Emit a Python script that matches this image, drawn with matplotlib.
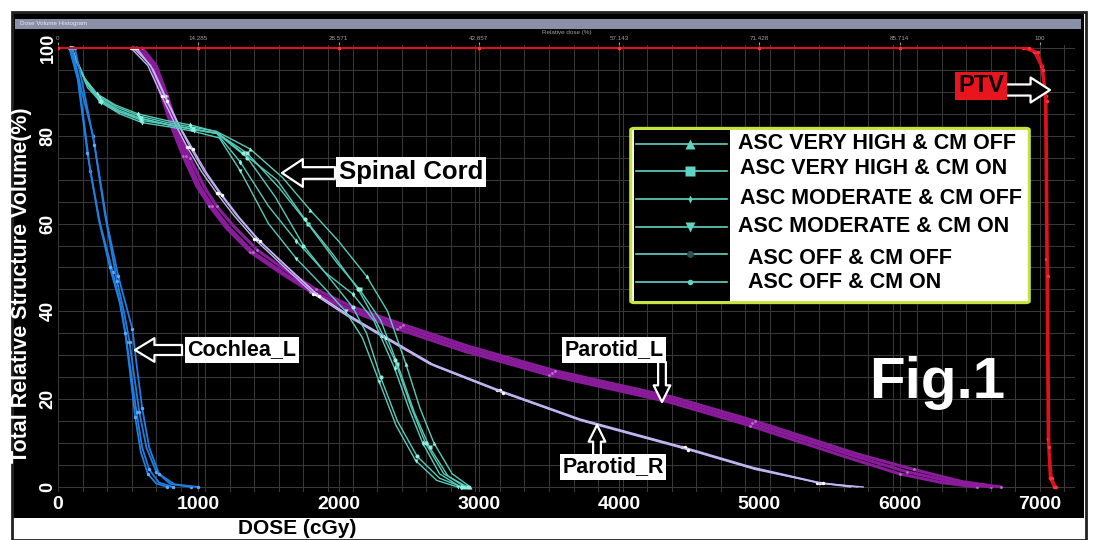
import numpy as np
import matplotlib.pyplot as plt
from matplotlib.patches import Rectangle, FancyBboxPatch
from matplotlib.lines import Line2D

plt.rcParams['font.family'] = ['Liberation Sans', 'DejaVu Sans']

# ---- data (dose in cGy, volume in %) ----
ptv_dose = [
    [0, 1000, 2000, 3000, 4000, 5000, 6000, 6900, 6970, 7015, 7040, 7050, 7060, 7075, 7105],
    [0, 1000, 2000, 3000, 4000, 5000, 6000, 6880, 6960, 7005, 7035, 7045, 7055, 7070, 7100],
    [0, 1000, 2000, 3000, 4000, 5000, 6000, 6920, 6985, 7025, 7048, 7058, 7068, 7085, 7115],
]
ptv_vol = [
    [100, 100, 100, 100, 100, 100, 100, 100, 99, 96, 89, 50, 10, 2, 0],
    [100, 100, 100, 100, 100, 100, 100, 100, 99, 96, 90, 52, 11, 2, 0],
    [100, 100, 100, 100, 100, 100, 100, 100, 99, 95, 88, 48, 9, 2, 0],
]

cochlea_dose = [
    [90, 150, 230, 300, 390, 450, 490, 520, 560, 600, 650, 720, 820],
    [100, 170, 250, 335, 420, 470, 510, 540, 580, 630, 700, 800, 950],
    [120, 180, 260, 350, 430, 480, 530, 560, 600, 650, 720, 830, 1000],
    [80, 140, 210, 290, 370, 440, 480, 510, 550, 590, 640, 700, 780],
]
cochlea_vol = [
    [100, 92, 72, 60, 49, 41, 33, 26, 17, 9, 4, 1, 0],
    [100, 90, 80, 62, 47, 40, 33, 26, 17, 9, 3.5, 0.7, 0],
    [100, 91, 78, 60, 48, 42, 36, 28, 18, 9, 3, 0.6, 0],
    [100, 93, 76, 61, 50, 42, 35, 27, 16, 8, 3, 0.8, 0],
]

# one spinal cord curve per plan (same order as the legend)
cord_dose = [
    [90, 190, 290, 420, 580, 780, 950, 1130, 1370, 1600, 1800, 2000, 2200, 2350, 2480, 2580, 2680, 2810, 2940],
    [95, 200, 300, 430, 590, 790, 960, 1140, 1350, 1580, 1780, 1990, 2150, 2300, 2420, 2540, 2650, 2780, 2900],
    [85, 180, 280, 410, 570, 770, 940, 1120, 1300, 1500, 1700, 1900, 2100, 2250, 2400, 2500, 2600, 2720, 2870],
    [100, 210, 310, 440, 600, 800, 970, 1150, 1300, 1500, 1700, 1880, 2050, 2170, 2290, 2410, 2550, 2700, 2850],
    [90, 195, 295, 425, 585, 785, 955, 1135, 1350, 1550, 1750, 1950, 2100, 2200, 2300, 2420, 2560, 2720, 2880],
    [95, 205, 305, 435, 595, 795, 965, 1145, 1320, 1560, 1760, 1960, 2140, 2280, 2400, 2520, 2620, 2750, 2920],
]
cord_vol = [
    [100, 93, 89, 86.5, 84.5, 83, 82, 81, 77, 70.5, 63, 56, 48, 40, 28, 18, 10, 3, 0],
    [100, 92, 88, 85.5, 84, 82.5, 81.5, 80.5, 76, 68, 60, 51, 45, 38, 28, 17, 9, 2.5, 0],
    [100, 93.5, 89.5, 87, 85, 83.5, 82.5, 81, 74, 64, 56, 49, 44, 38, 27, 18, 10, 3, 0],
    [100, 91, 87.5, 85, 83, 82, 81, 79.5, 72, 60, 52, 46, 40, 34, 24, 14, 6, 1.5, 0],
    [100, 92.5, 88.5, 86, 84, 82.5, 81.5, 80.5, 75, 66, 55, 47, 41, 35, 25, 15, 7, 2, 0],
    [100, 92, 88, 85.5, 83.5, 82.5, 81.5, 80.5, 76, 70, 61, 53, 45, 37, 29, 18, 10, 3, 0],
]

parotid_l_dose = [
    [540, 650, 730, 810, 890, 990, 1080, 1200, 1370, 1600, 1800, 2060, 2420, 2890, 3500, 4340, 4930, 5650, 6000, 6300, 6550],
    [560, 670, 750, 830, 910, 1010, 1100, 1220, 1390, 1620, 1820, 2080, 2440, 2910, 3520, 4360, 4950, 5680, 6050, 6400, 6650],
    [600, 700, 780, 860, 940, 1040, 1130, 1250, 1420, 1640, 1840, 2100, 2460, 2930, 3540, 4380, 4970, 5700, 6100, 6450, 6720],
]
parotid_l_vol = [
    [100, 97, 90, 82, 75.5, 68.5, 64, 59, 53.5, 48.5, 44.5, 40.5, 36, 31, 25.5, 19.5, 14, 6.5, 3, 1, 0],
    [100, 97, 90, 82, 75.5, 68.5, 64, 59, 53.5, 48.5, 44.5, 40.5, 36.5, 31.5, 26, 20, 14.5, 7, 3.5, 1, 0],
    [100, 96, 89, 81, 75, 68.5, 64, 59.5, 54, 49, 45, 41, 37, 32, 26.5, 20.5, 15, 7.5, 4, 1.2, 0],
]

parotid_r_dose = [
    [520, 640, 740, 830, 920, 1020, 1130, 1250, 1400, 1600, 1820, 2060, 2300, 2650, 3130, 3700, 4450, 4930, 5410, 5650],
    [540, 660, 760, 850, 940, 1040, 1150, 1270, 1420, 1620, 1840, 2080, 2320, 2670, 3150, 3720, 4470, 4950, 5430, 5700],
    [560, 680, 780, 870, 960, 1060, 1170, 1290, 1440, 1640, 1860, 2100, 2340, 2690, 3170, 3740, 4490, 4970, 5450, 5740],
]
parotid_r_vol = [
    [100, 96, 89, 83, 77.5, 72, 67, 62, 56.5, 50.5, 44, 39, 34.5, 28, 22, 15.5, 9, 4.5, 1, 0],
    [100, 96, 89, 83, 77.5, 72, 67, 62, 56.5, 50.5, 44, 39, 34.5, 28, 22, 15.5, 9, 4.5, 1, 0],
    [100, 95, 88, 82, 77, 71.5, 66.5, 61.5, 56, 50, 43.5, 38.5, 34, 27.5, 21.5, 15, 8.5, 4, 0.8, 0],
]

plan_labels = ['ASC VERY HIGH & CM OFF', 'ASC VERY HIGH & CM ON', 'ASC MODERATE & CM OFF',
               'ASC MODERATE & CM ON', 'ASC OFF & CM OFF', 'ASC OFF & CM ON']
plan_markers = ['^', 's', 'd', 'v', 'o', 'o']
plan_msize = [7, 7, 4, 7, 5, 4]
plan_mcolor = ['#5fd4c4', '#5fd4c4', '#5fd4c4', '#5fd4c4', '#2f4f4f', '#5fd4c4']

x_ticks = [0, 1000, 2000, 3000, 4000, 5000, 6000, 7000]
y_ticks = [0, 20, 40, 60, 80, 100]
rel_ticks = [0, 14.285, 28.571, 42.857, 57.143, 71.428, 85.714, 100]
rel_labels = ['0', '14.285', '28.571', '42.857', '57.143', '71.428', '85.714', '100']

# ---- figure (pixel helpers, image coords from top-left) ----
W, H = 1094, 540
def fx(x):
    return x / W
def fy(y):
    return 1 - y / H

fig = plt.figure(figsize=(10.94, 5.40), dpi=100, facecolor='white')

# black window and its title bar
fig.add_artist(Rectangle((fx(13), fy(518)), fx(1084) - fx(13), fy(12) - fy(518),
                         transform=fig.transFigure, fc='black', ec='none', zorder=-10))
fig.add_artist(Rectangle((fx(15), fy(29)), fx(1081) - fx(15), fy(19) - fy(29),
                         transform=fig.transFigure, fc='#8a90a8', ec='none', zorder=-9))
fig.add_artist(Rectangle((fx(12), fy(540)), fx(1086) - fx(12), fy(12) - fy(540),
                         transform=fig.transFigure, fc='none', ec='#222222', lw=2, zorder=-8))
fig.text(fx(20), fy(24), 'Dose Volume Histogram', fontsize=4.5, color='#e8e8f0', va='center')

ax = fig.add_axes([fx(58), fy(492), fx(1075) - fx(58), fy(45) - fy(492)], facecolor='black')
ax.set_xlim(0, 7250)
ax.set_ylim(-1.14, 100.68)

ax.set_xticks(x_ticks)
ax.set_yticks(y_ticks)
ax.set_xticks(np.arange(0, 7250, 175), minor=True)
ax.set_yticks(np.arange(0, 101, 5), minor=True)
ax.grid(which='both', color='#3a3a3a', lw=0.7)
ax.set_axisbelow(True)
for s in ax.spines.values():
    s.set_visible(False)
ax.tick_params(which='both', length=0, colors='white')
ax.tick_params(axis='x', labelsize=14, pad=3)
ax.tick_params(axis='y', labelsize=13, pad=1)
for lab in ax.get_xticklabels():
    lab.set_fontweight('bold')
for lab in ax.get_yticklabels():
    lab.set_fontweight('bold')
    lab.set_rotation(90)
    lab.set_va('center')

sec = ax.secondary_xaxis('top', functions=(lambda d: d / 70.0, lambda p: p * 70.0))
sec.set_xticks(rel_ticks)
sec.set_xticklabels(rel_labels)
sec.tick_params(colors='#a0a0a0', labelsize=4.5, length=2, pad=1)
sec.set_xlabel('Relative dose (%)', fontsize=4.5, color='#a0a0a0', labelpad=1)
sec.spines['top'].set_visible(False)

# ---- curves ----
for d, v in zip(parotid_l_dose, parotid_l_vol):
    ax.plot(d, v, color='#8a1c9c', lw=2.2, marker='o', ms=2, mfc='#c070d0', mec='none', markevery=2)
for d, v in zip(parotid_r_dose, parotid_r_vol):
    ax.plot(d, v, color='#c3b4f2', lw=1.0, marker='o', ms=2.5, mfc='white', mec='none', markevery=2)
for i, (d, v) in enumerate(zip(cord_dose, cord_vol)):
    ax.plot(d, v, color='#56cbb9', lw=1.0, marker=plan_markers[i], ms=3, mfc='#8ff0e0', mec='none', markevery=2)
for d, v in zip(cochlea_dose, cochlea_vol):
    ax.plot(d, v, color='#1f7fe0', lw=1.3, marker='o', ms=2.5, mfc='#5aa8ff', mec='none', markevery=2)
for d, v in zip(ptv_dose, ptv_vol):
    ax.plot(d, v, color='#e0101c', lw=1.4, marker='o', ms=2.5, mfc='#ff3040', mec='none', markevery=1)

# ---- labels ----
fig.text(fx(22), fy(285), 'Total Relative Structure Volume(%)', rotation=90, fontsize=15.5,
         fontweight='bold', color='white', ha='center', va='center')
fig.text(fx(297), fy(528), 'DOSE (cGy)', fontsize=15, fontweight='bold', color='black',
         ha='center', va='center')

def arrow(tail, tip, hw, tw, hl, ms=20):
    ax.annotate('', xy=(tip[0], H - tip[1]), xytext=(tail[0], H - tail[1]),
                xycoords='figure pixels', textcoords='figure pixels',
                arrowprops=dict(arrowstyle='simple,head_length=%.2f,head_width=%.2f,tail_width=%.2f' % (hl, hw, tw),
                                fc='black', ec='white', lw=1.6, mutation_scale=ms,
                                shrinkA=0, shrinkB=0), zorder=5)

def boxed(x, y, s, size, fc='white', color='black'):
    fig.text(fx(x), fy(y), s, fontsize=size, fontweight='bold', color=color, ha='center', va='center',
             bbox=dict(boxstyle='square,pad=0.12', fc=fc, ec='none'), zorder=6)

arrow((335, 173), (282, 173), 1.0, 0.42, 0.75)
boxed(411, 172, 'Spinal Cord', 18.5)
arrow((182, 350), (135, 350), 0.85, 0.36, 0.7)
boxed(242, 350, 'Cochlea_L', 15.5)
arrow((662, 362), (662, 402), 0.6, 0.28, 0.6)
boxed(614, 350, 'Parotid_L', 15.5)
arrow((597, 457), (597, 425), 0.6, 0.28, 0.6)
boxed(613, 467, 'Parotid_R', 15.5)
arrow((1005, 90), (1050, 90), 0.9, 0.4, 0.7)
boxed(981, 86, 'PTV', 17, fc='#e8141e')
fig.text(fx(937), fy(383), 'Fig.1', fontsize=42, fontweight='bold', color='white',
         ha='center', va='center', zorder=6)

# ---- legend ----
fig.add_artist(FancyBboxPatch((fx(634), fy(301)), fx(1026) - fx(634), fy(130) - fy(301),
                              boxstyle='round,pad=0.003', transform=fig.transFigure,
                              fc='white', ec='#c6e23c', lw=2.2, zorder=7))
fig.add_artist(Rectangle((fx(634), fy(301)), fx(730) - fx(634), fy(130) - fy(301),
                         transform=fig.transFigure, fc='black', ec='none', zorder=7.5))
leg_y = [144, 171, 199, 227, 254, 282]
text_y = [144, 169, 199, 227, 258, 283]
text_x = [738, 740, 740, 738, 748, 748]
for i in range(6):
    fig.add_artist(Line2D([fx(636), fx(727)], [fy(leg_y[i]), fy(leg_y[i])], transform=fig.transFigure,
                          color='#5fd4c4', lw=1.2, zorder=8))
    fig.add_artist(Line2D([fx(690)], [fy(leg_y[i])], transform=fig.transFigure, marker=plan_markers[i],
                          ms=plan_msize[i], color=plan_mcolor[i], mec='none', zorder=9))
    fig.text(fx(text_x[i]), fy(text_y[i]), plan_labels[i], fontsize=15.5, fontweight='bold',
             color='black', va='center', ha='left', zorder=9)

fig.savefig('out.png', dpi=100, facecolor='white')
